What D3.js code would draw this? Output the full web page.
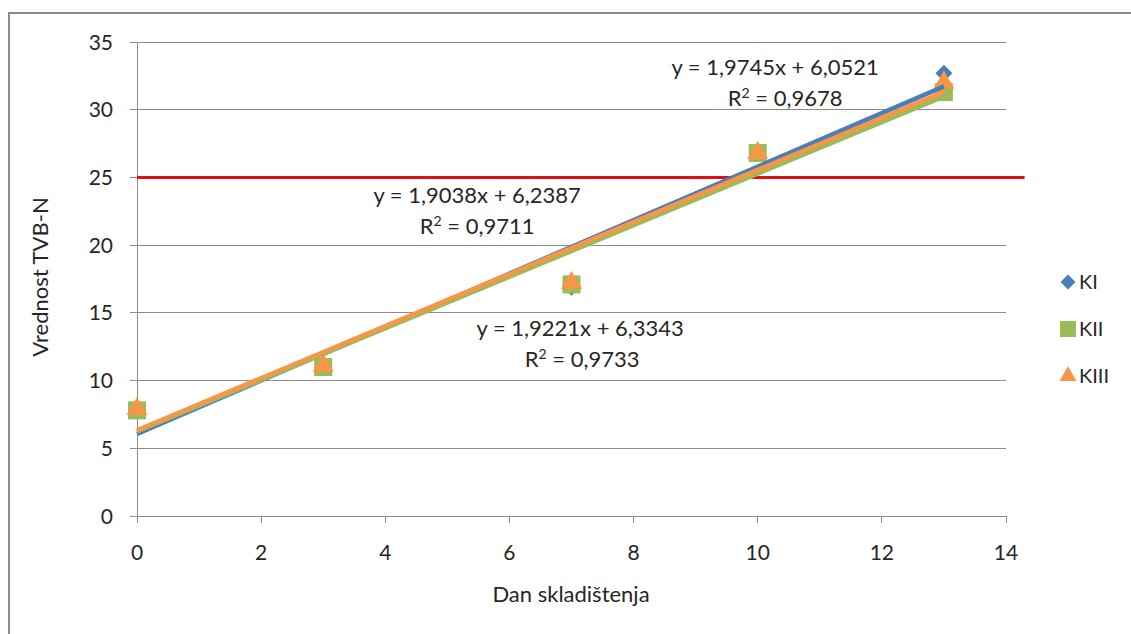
<!DOCTYPE html>
<html><head><meta charset="utf-8">
<script src="https://cdn.jsdelivr.net/npm/d3@7"></script>
<style>
body{margin:0;background:#fff;}
svg{display:block;font-family:Lato,"Open Sans",sans-serif;}
</style></head>
<body><svg id="c" width="1131" height="634"></svg>
<script>
const days = [0, 3, 7, 10, 13];
const seriesNames = ["KI", "KII", "KIII"];
const valuesKI = [7.8, 11.0, 16.9, 26.9, 32.7];
const valuesKII = [7.8, 11.0, 17.1, 26.8, 31.3];
const valuesKIII = [7.9, 11.1, 17.2, 26.8, 32.0];
const slopes = [1.9745, 1.9038, 1.9221];
const intercepts = [6.0521, 6.2387, 6.3343];
const equationLabels = ["y = 1,9745x + 6,0521", "y = 1,9038x + 6,2387", "y = 1,9221x + 6,3343"];
const r2Labels = ["0,9678", "0,9711", "0,9733"];
const labelAnchors = [{x: 10.28, y: 32.55, dx: 10}, {x: 5.48, y: 23.1, dx: 0}, {x: 7.14, y: 13.3, dx: 2}];
const limitValue = 25;
const limitRange = [0, 14.3];
const xTicks = [0, 2, 4, 6, 8, 10, 12, 14];
const yTicks = [0, 5, 10, 15, 20, 25, 30, 35];
const colors = ["#4a7ebb", "#9bbb59", "#f79646"];

const svg = d3.select("#c");
const x = d3.scaleLinear().domain([0, 14]).range([137, 1006]);
const y = d3.scaleLinear().domain([0, 35]).range([516, 42]);
const grid = "#8c8c8c";
const txt = "#262626";

// outer border
svg.append("path").attr("d", "M9,634 V13 H1131").attr("fill", "none").attr("stroke", "#8a8a8a").attr("stroke-width", 2);

// gridlines
svg.append("g").selectAll("line").data(yTicks).join("line")
  .attr("x1", x(0) - 7).attr("x2", x(14)).attr("y1", d => y(d)).attr("y2", d => y(d))
  .attr("stroke", grid).attr("stroke-width", 1).attr("shape-rendering", "crispEdges");
// y axis
svg.append("line").attr("x1", x(0)).attr("x2", x(0)).attr("y1", y(35)).attr("y2", y(0))
  .attr("stroke", grid).attr("shape-rendering", "crispEdges");
// x ticks
svg.append("g").selectAll("line").data(xTicks).join("line")
  .attr("x1", d => x(d)).attr("x2", d => x(d)).attr("y1", y(0)).attr("y2", y(0) + 7)
  .attr("stroke", grid).attr("shape-rendering", "crispEdges");
// tick labels
svg.append("g").selectAll("text").data(yTicks).join("text")
  .attr("x", 113).attr("y", d => y(d)).attr("dy", "0.36em").attr("text-anchor", "end")
  .attr("font-size", 21).attr("fill", txt).text(d => d);
svg.append("g").selectAll("text").data(xTicks).join("text")
  .attr("x", d => x(d)).attr("y", y(0) + 44).attr("text-anchor", "middle")
  .attr("font-size", 21).attr("fill", txt).text(d => d);

// axis titles
svg.append("text").attr("x", 571).attr("y", 602).attr("text-anchor", "middle")
  .attr("font-size", 22).attr("fill", txt).text("Dan skladištenja");
svg.append("text").attr("transform", "translate(48,277) rotate(-90)").attr("text-anchor", "middle")
  .attr("font-size", 22).attr("fill", txt).text("Vrednost TVB-N");

// limit line
svg.append("line").attr("x1", x(limitRange[0])).attr("x2", x(limitRange[1]))
  .attr("y1", y(limitValue)).attr("y2", y(limitValue)).attr("stroke", "#e01010").attr("stroke-width", 3);

const allValues = [valuesKI, valuesKII, valuesKIII];
const markerPath = (i, s) => {
  if (i === 0) return d3.symbol().type(d3.symbolSquare).size(s * s / 2)();
  if (i === 1) return d3.symbol().type(d3.symbolSquare).size(s * s)();
  return d3.symbol().type(d3.symbolTriangle).size(s * s * Math.sqrt(3) / 4)();
};
const markerRot = i => i === 0 ? " rotate(45)" : "";
const markerSizes = [17, 18, 21];

// markers
allValues.forEach((vals, i) => {
  svg.append("g").selectAll("path").data(vals).join("path")
    .attr("transform", (d, j) => `translate(${x(days[j])},${y(d)})` + markerRot(i))
    .attr("d", markerPath(i, markerSizes[i]))
    .attr("fill", colors[i]);
});

// trendlines
slopes.forEach((s, i) => {
  svg.append("line")
    .attr("x1", x(days[0])).attr("y1", y(intercepts[i] + s * days[0]))
    .attr("x2", x(days[days.length - 1])).attr("y2", y(intercepts[i] + s * days[days.length - 1]))
    .attr("stroke", colors[i]).attr("stroke-width", 4.5);
});

// equation labels
labelAnchors.forEach((a, i) => {
  svg.append("text").attr("x", x(a.x)).attr("y", y(a.y)).attr("text-anchor", "middle")
    .attr("font-size", 22).attr("fill", txt).text(equationLabels[i]);
  const t = svg.append("text").attr("x", x(a.x) + a.dx).attr("y", y(a.y) + 31).attr("text-anchor", "middle")
    .attr("font-size", 22).attr("fill", txt);
  t.append("tspan").text("R");
  t.append("tspan").attr("dy", -8).attr("font-size", 14).text("2");
  t.append("tspan").attr("dy", 8).text(" = " + r2Labels[i]);
});

// legend
const lg = svg.append("g");
const legendSizes = [15, 16, 17];
seriesNames.forEach((n, i) => {
  const cy = 282 + i * 47;
  lg.append("path").attr("transform", `translate(1068,${cy})` + markerRot(i))
    .attr("d", markerPath(i, legendSizes[i])).attr("fill", colors[i]);
  lg.append("text").attr("x", 1079).attr("y", cy).attr("dy", "0.36em")
    .attr("font-size", 20).attr("fill", txt).text(n);
});
</script></body></html>
